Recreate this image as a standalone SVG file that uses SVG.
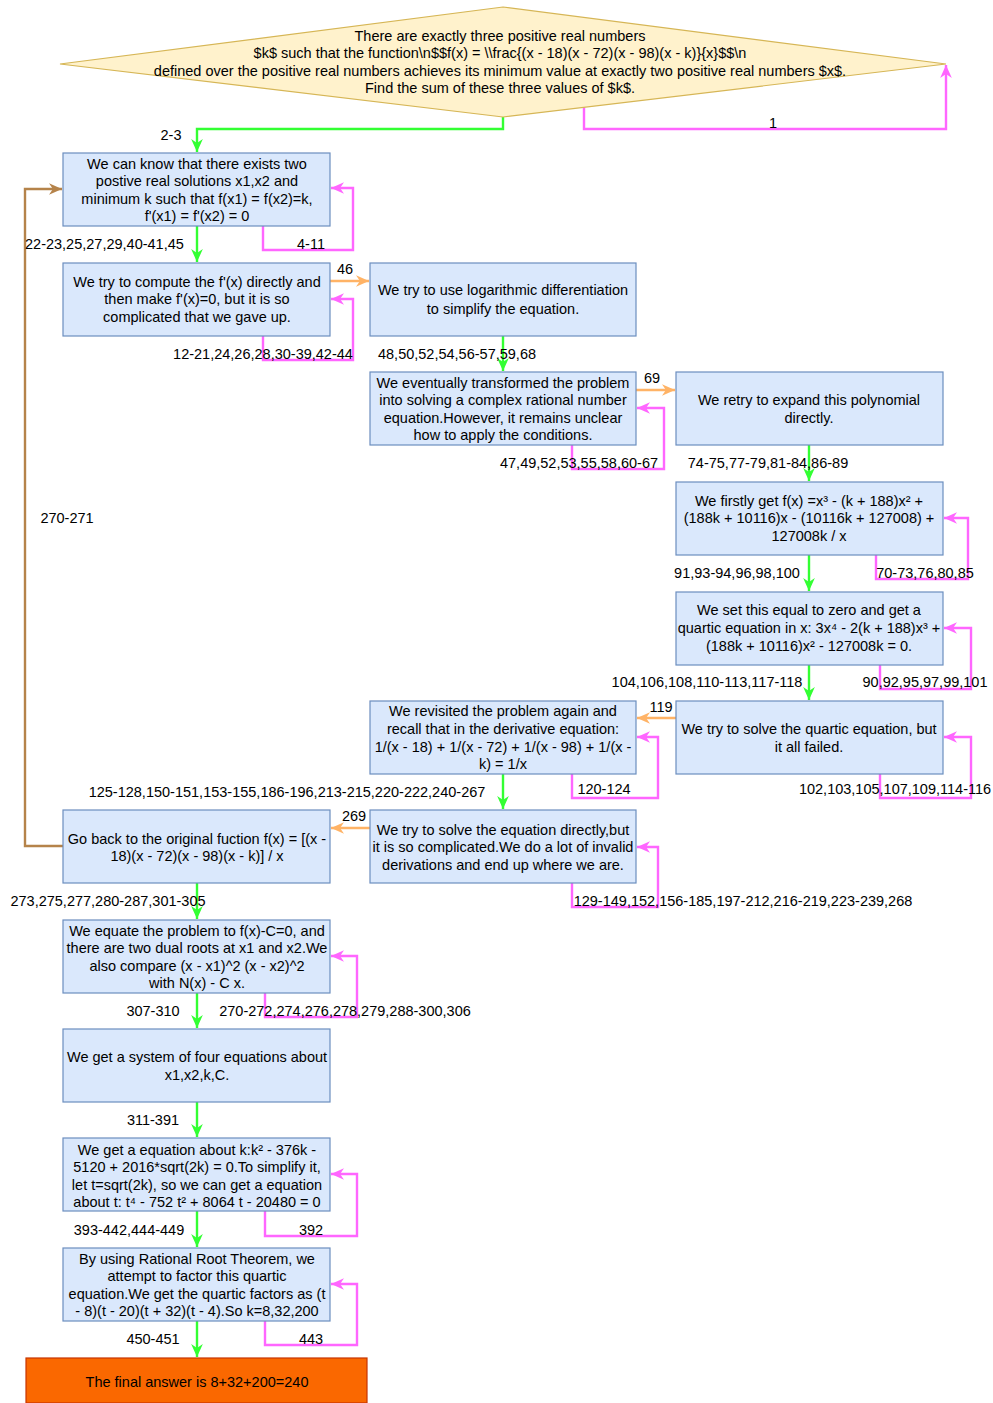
<svg xmlns="http://www.w3.org/2000/svg" width="993" height="1403" viewBox="0 0 993 1403">
  <style>
    text { font-family: "Liberation Sans", Arial, sans-serif; font-size: 14.5px; fill: #000; }
    .c { text-anchor: middle; }
    .box { fill: #dae8fc; stroke: #6c8ebf; stroke-width: 1.2; }
    .dia { fill: #fff2cc; stroke: #d6b656; stroke-width: 1.2; }
    .fin { fill: #fa6800; stroke: #c73500; stroke-width: 1.2; }
    .e { fill: none; stroke-width: 2.4; }
    .g { stroke: #33ff33; marker-end: url(#ag); }
    .p { stroke: #ff66ff; marker-end: url(#ap); }
    .o { stroke: #ffb366; marker-end: url(#ao); }
    .b { stroke: #b5834a; marker-end: url(#ab); }
  </style>
  <defs>
    <marker id="ag" viewBox="0 0 10 10" refX="10" refY="5" markerWidth="13" markerHeight="13" markerUnits="userSpaceOnUse" orient="auto"><path d="M0,0.5 L10,5 L0,9.5 L3,5 z" fill="#33ff33"/></marker>
    <marker id="ap" viewBox="0 0 10 10" refX="10" refY="5" markerWidth="13" markerHeight="13" markerUnits="userSpaceOnUse" orient="auto"><path d="M0,0.5 L10,5 L0,9.5 L3,5 z" fill="#ff66ff"/></marker>
    <marker id="ao" viewBox="0 0 10 10" refX="10" refY="5" markerWidth="13" markerHeight="13" markerUnits="userSpaceOnUse" orient="auto"><path d="M0,0.5 L10,5 L0,9.5 L3,5 z" fill="#ffb366"/></marker>
    <marker id="ab" viewBox="0 0 10 10" refX="10" refY="5" markerWidth="13" markerHeight="13" markerUnits="userSpaceOnUse" orient="auto"><path d="M0,0.5 L10,5 L0,9.5 L3,5 z" fill="#b5834a"/></marker>
  </defs>

  <!-- connectors -->
  <g id="edges">
    <path class="e g" d="M503,117 V129 H197 V152"/>
    <path class="e p" d="M584,107 V129 H946 V65"/>
    <path class="e p" d="M263,226 V250 H353 V188 H331"/>
    <path class="e g" d="M197,226 V262"/>
    <path class="e o" d="M330,281 H369"/>
    <path class="e p" d="M263,336 V360 H353 V299 H331"/>
    <path class="e g" d="M503,336 V371"/>
    <path class="e o" d="M636,390 H675"/>
    <path class="e p" d="M572,445 V469 H664 V408 H637"/>
    <path class="e g" d="M809,445 V481"/>
    <path class="e p" d="M876,555 V579 H968 V518 H944"/>
    <path class="e g" d="M809,555 V591"/>
    <path class="e p" d="M880,665 V689 H971 V628 H944"/>
    <path class="e g" d="M809,665 V700"/>
    <path class="e o" d="M676,718 H637"/>
    <path class="e p" d="M880,774 V798 H971 V737 H944"/>
    <path class="e p" d="M572,774 V798 H658 V737 H637"/>
    <path class="e g" d="M503,774 V809"/>
    <path class="e o" d="M370,828 H331"/>
    <path class="e p" d="M572,883 V907 H658 V847 H637"/>
    <path class="e b" d="M63,846 H25 V189 H62"/>
    <path class="e g" d="M197,883 V919"/>
    <path class="e p" d="M265,993 V1017 H357 V956 H331"/>
    <path class="e g" d="M197,993 V1028"/>
    <path class="e g" d="M197,1102 V1137"/>
    <path class="e p" d="M265,1211 V1236 H357 V1174 H331"/>
    <path class="e g" d="M197,1211 V1247"/>
    <path class="e p" d="M265,1321 V1345 H357 V1284 H331"/>
    <path class="e g" d="M197,1321 V1357"/>

    <!-- edge labels -->
    <text class="c" x="171" y="140">2-3</text>
    <text class="c" x="773" y="128">1</text>
    <text x="25" y="249">22-23,25,27,29,40-41,45</text>
    <text class="c" x="311" y="249">4-11</text>
    <text class="c" x="345" y="274">46</text>
    <text class="c" x="263" y="359">12-21,24,26,28,30-39,42-44</text>
    <text class="c" x="457" y="359">48,50,52,54,56-57,59,68</text>
    <text class="c" x="652" y="383">69</text>
    <text class="c" x="579" y="468">47,49,52,53,55,58,60-67</text>
    <text class="c" x="768" y="468">74-75,77-79,81-84,86-89</text>
    <text class="c" x="925" y="578">70-73,76,80,85</text>
    <text class="c" x="737" y="578">91,93-94,96,98,100</text>
    <text class="c" x="707" y="687">104,106,108,110-113,117-118</text>
    <text class="c" x="925" y="687">90,92,95,97,99,101</text>
    <text class="c" x="661" y="712">119</text>
    <text class="c" x="604" y="794">120-124</text>
    <text class="c" x="895" y="794">102,103,105,107,109,114-116</text>
    <text class="c" x="287" y="797">125-128,150-151,153-155,186-196,213-215,220-222,240-267</text>
    <text class="c" x="354" y="821">269</text>
    <text class="c" x="743" y="906">129-149,152,156-185,197-212,216-219,223-239,268</text>
    <text class="c" x="67" y="523">270-271</text>
    <text class="c" x="108" y="906">273,275,277,280-287,301-305</text>
    <text class="c" x="153" y="1016">307-310</text>
    <text class="c" x="345" y="1016">270-272,274,276,278,279,288-300,306</text>
    <text class="c" x="153" y="1125">311-391</text>
    <text class="c" x="129" y="1235">393-442,444-449</text>
    <text class="c" x="311" y="1235">392</text>
    <text class="c" x="153" y="1344">450-451</text>
    <text class="c" x="311" y="1344">443</text>
  </g>

  <!-- nodes -->
  <g id="problem">
    <polygon class="dia" points="503,7 946,64 503,117 60,64"/>
    <text class="c" x="500" y="41">There are exactly three positive real numbers</text>
    <text class="c" x="500" y="58">$k$ such that the function\n$$f(x) = \\frac{(x - 18)(x - 72)(x - 98)(x - k)}{x}$$\n</text>
    <text class="c" x="500" y="76">defined over the positive real numbers achieves its minimum value at exactly two positive real numbers $x$.</text>
    <text class="c" x="500" y="93">Find the sum of these three values of $k$.</text>
  </g>

  <g id="n1">
    <rect class="box" x="63" y="153" width="267" height="73"/>
    <text class="c" x="197" y="169">We can know that there exists two</text>
    <text class="c" x="197" y="186">postive real solutions x1,x2 and</text>
    <text class="c" x="197" y="204">minimum k such that f(x1) = f(x2)=k,</text>
    <text class="c" x="197" y="221">f'(x1) = f'(x2) = 0</text>
  </g>

  <g id="n2">
    <rect class="box" x="63" y="263" width="267" height="73"/>
    <text class="c" x="197" y="287">We try to compute the f'(x) directly and</text>
    <text class="c" x="197" y="304">then make f'(x)=0, but it is so</text>
    <text class="c" x="197" y="322">complicated that we gave up.</text>
  </g>

  <g id="n3">
    <rect class="box" x="370" y="263" width="266" height="73"/>
    <text class="c" x="503" y="295">We try to use logarithmic differentiation</text>
    <text class="c" x="503" y="314">to simplify the equation.</text>
  </g>

  <g id="n4">
    <rect class="box" x="370" y="372" width="266" height="73"/>
    <text class="c" x="503" y="388">We eventually transformed the problem</text>
    <text class="c" x="503" y="405">into solving a complex rational number</text>
    <text class="c" x="503" y="423">equation.However, it remains unclear</text>
    <text class="c" x="503" y="440">how to apply the conditions.</text>
  </g>

  <g id="n5">
    <rect class="box" x="676" y="372" width="267" height="73"/>
    <text class="c" x="809" y="405">We retry to expand this polynomial</text>
    <text class="c" x="809" y="423">directly.</text>
  </g>

  <g id="n6">
    <rect class="box" x="676" y="482" width="267" height="73"/>
    <text class="c" x="809" y="506">We firstly get  f(x) =x³ - (k + 188)x² +</text>
    <text class="c" x="809" y="523">(188k + 10116)x - (10116k + 127008) +</text>
    <text class="c" x="809" y="541">127008k / x</text>
  </g>

  <g id="n7">
    <rect class="box" x="676" y="592" width="267" height="73"/>
    <text class="c" x="809" y="615">We set this equal to zero and get a</text>
    <text class="c" x="809" y="633">quartic equation in x: 3x⁴ - 2(k + 188)x³ +</text>
    <text class="c" x="809" y="651">(188k + 10116)x² - 127008k = 0.</text>
  </g>

  <g id="n8">
    <rect class="box" x="676" y="701" width="267" height="73"/>
    <text class="c" x="809" y="734">We try to solve the quartic equation, but</text>
    <text class="c" x="809" y="752">it all failed.</text>
  </g>

  <g id="n9">
    <rect class="box" x="370" y="701" width="266" height="73"/>
    <text class="c" x="503" y="716">We revisited the problem again and</text>
    <text class="c" x="503" y="734">recall that in the derivative equation:</text>
    <text class="c" x="503" y="752">1/(x - 18) + 1/(x - 72) + 1/(x - 98) + 1/(x -</text>
    <text class="c" x="503" y="769">k) = 1/x</text>
  </g>

  <g id="n10">
    <rect class="box" x="370" y="810" width="266" height="73"/>
    <text class="c" x="503" y="835">We try to solve the equation directly,but</text>
    <text class="c" x="503" y="852">it is so complicated.We do a lot of invalid</text>
    <text class="c" x="503" y="870">derivations and end up where we are.</text>
  </g>

  <g id="n11">
    <rect class="box" x="63" y="810" width="267" height="73"/>
    <text class="c" x="197" y="844">Go back to the original fuction f(x) = [(x -</text>
    <text class="c" x="197" y="861">18)(x - 72)(x - 98)(x - k)] / x</text>
  </g>

  <g id="n12">
    <rect class="box" x="63" y="920" width="267" height="73"/>
    <text class="c" x="197" y="936">We equate the problem to f(x)-C=0, and</text>
    <text class="c" x="197" y="953">there are two dual roots at x1 and x2.We</text>
    <text class="c" x="197" y="971">also compare (x - x1)^2 (x - x2)^2</text>
    <text class="c" x="197" y="988">with N(x) - C x.</text>
  </g>

  <g id="n13">
    <rect class="box" x="63" y="1029" width="267" height="73"/>
    <text class="c" x="197" y="1062">We get a system of four equations about</text>
    <text class="c" x="197" y="1080">x1,x2,k,C.</text>
  </g>

  <g id="n14">
    <rect class="box" x="63" y="1138" width="267" height="73"/>
    <text class="c" x="197" y="1155">We get a equation about k:k² - 376k -</text>
    <text class="c" x="197" y="1172">5120 + 2016*sqrt(2k) = 0.To simplify it,</text>
    <text class="c" x="197" y="1190">let t=sqrt(2k), so we can get a equation</text>
    <text class="c" x="197" y="1207">about t: t⁴ - 752 t² + 8064 t - 20480 = 0</text>
  </g>

  <g id="n15">
    <rect class="box" x="63" y="1248" width="267" height="73"/>
    <text class="c" x="197" y="1264">By using Rational Root Theorem, we</text>
    <text class="c" x="197" y="1281">attempt to factor this quartic</text>
    <text class="c" x="197" y="1299">equation.We get the quartic factors as (t</text>
    <text class="c" x="197" y="1316">- 8)(t - 20)(t + 32)(t - 4).So k=8,32,200</text>
  </g>

  <g id="answer">
    <rect class="fin" x="26" y="1358" width="341" height="45"/>
    <text class="c" x="197" y="1387">The final answer is 8+32+200=240</text>
  </g>
</svg>
